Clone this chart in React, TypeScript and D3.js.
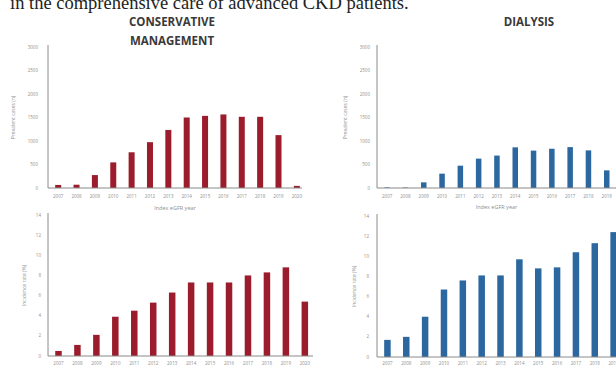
import React from "react";
import * as d3 from "d3";

// index years (14 categories, shared by all panels)
const years = [
  "2007", "2008", "2009", "2010", "2011", "2012", "2013",
  "2014", "2015", "2016", "2017", "2018", "2019", "2020",
];

// conservative management
const cmPrevalent = [65, 70, 275, 545, 760, 975, 1235, 1500, 1535, 1565, 1515, 1515, 1125, 45];
const cmIncidence = [0.5, 1.1, 2.1, 3.9, 4.5, 5.3, 6.3, 7.3, 7.3, 7.3, 8.0, 8.3, 8.8, 5.4];

// dialysis
const dxPrevalent = [12, 10, 120, 305, 475, 625, 690, 865, 795, 835, 870, 800, 375, 420];
const dxIncidence = [1.7, 2.0, 4.0, 6.7, 7.6, 8.1, 8.1, 9.7, 8.8, 8.9, 10.4, 11.3, 12.4, 13.2];

const prevalentTicks = [0, 500, 1000, 1500, 2000, 2500, 3000];
const incidenceTicks = [0, 2, 4, 6, 8, 10, 12, 14];

const RED = "#9b1c2c";
const BLUE = "#2c679f";
const AXIS = "#8a8a8a";
const LABEL = "#8f8f8f";

type PanelProps = {
  axisX: number;
  top: number;
  bottom: number;
  step: number;
  right: number;
  values: number[];
  ticks: number[];
  color: string;
  barWidth: number;
  ylabel: string;
  ylabelX: number;
  tickX: number;
  xTickY: number;
  xlabel?: string;
  xlabelY?: number;
};

const Panel = (p: PanelProps) => {
  const x = d3
    .scaleBand<string>()
    .domain(years)
    .range([p.axisX + 1, p.axisX + 1 + p.step * years.length])
    .paddingInner(0)
    .paddingOuter(0);
  const y = d3
    .scaleLinear()
    .domain([0, p.ticks[p.ticks.length - 1]])
    .range([p.bottom, p.top]);
  const mid = (p.top + p.bottom) / 2;
  const plotMid = (p.axisX + Math.min(p.right, 616)) / 2;

  return (
    <g>
      {p.values.map((v, i) => {
        const cx = (x(years[i]) as number) + x.bandwidth() / 2;
        return (
          <rect
            key={i}
            x={cx - p.barWidth / 2}
            y={y(v)}
            width={p.barWidth}
            height={p.bottom - y(v)}
            fill={p.color}
          />
        );
      })}
      <line x1={p.axisX} x2={p.axisX} y1={p.top - 2} y2={p.bottom} stroke={AXIS} strokeWidth={1} />
      <line x1={p.axisX} x2={p.right} y1={p.bottom} y2={p.bottom} stroke={AXIS} strokeWidth={1} />
      {p.ticks.map((t) => (
        <text
          key={t}
          x={p.tickX}
          y={y(t)}
          dy="0.35em"
          textAnchor="end"
          fontSize={4.5}
          fill={LABEL}
          fontFamily="Open Sans, sans-serif"
        >
          {t}
        </text>
      ))}
      {years.map((yr) => (
        <text
          key={yr}
          x={(x(yr) as number) + x.bandwidth() / 2}
          y={p.xTickY}
          textAnchor="middle"
          fontSize={4.5}
          fill={LABEL}
          fontFamily="Open Sans, sans-serif"
        >
          {yr}
        </text>
      ))}
      <text
        transform={`translate(${p.ylabelX},${mid}) rotate(-90)`}
        textAnchor="middle"
        fontSize={5}
        fill={LABEL}
        fontFamily="Open Sans, sans-serif"
      >
        {p.ylabel}
      </text>
      {p.xlabel && (
        <text
          x={plotMid}
          y={p.xlabelY}
          textAnchor="middle"
          fontSize={5.5}
          fill={LABEL}
          fontFamily="Open Sans, sans-serif"
        >
          {p.xlabel}
        </text>
      )}
    </g>
  );
};

export default function App() {
  return (
    <svg
      width={616}
      height={373}
      style={{ position: "absolute", left: 0, top: 0, background: "#fff" }}
    >
      <text x={10} y={9} fontSize={18.5} fontFamily="Liberation Serif, serif" fill="#222">
        in the comprehensive care of advanced CKD patients.
      </text>

      <g fontFamily="Open Sans, sans-serif" fontWeight={700} fontSize={11.5} fill="#3a3a3a" textAnchor="middle">
        <text x={172} y={26}>CONSERVATIVE</text>
        <text x={172} y={45}>MANAGEMENT</text>
        <text x={529} y={26}>DIALYSIS</text>
      </g>

      <Panel
        axisX={48}
        top={47}
        bottom={188}
        step={18.36}
        right={302}
        values={cmPrevalent}
        ticks={prevalentTicks}
        color={RED}
        barWidth={6}
        ylabel="Prevalent cases (n)"
        ylabelX={15}
        tickX={38}
        xTickY={198}
        xlabel="Index eGFR year"
        xlabelY={210}
      />
      <Panel
        axisX={48}
        top={215}
        bottom={356}
        step={18.95}
        right={313}
        values={cmIncidence}
        ticks={incidenceTicks}
        color={RED}
        barWidth={6.5}
        ylabel="Incidence rate (%)"
        ylabelX={26}
        tickX={41}
        xTickY={365}
      />
      <Panel
        axisX={377}
        top={47}
        bottom={188}
        step={18.3}
        right={616}
        values={dxPrevalent}
        ticks={prevalentTicks}
        color={BLUE}
        barWidth={5.5}
        ylabel="Prevalent cases (n)"
        ylabelX={347}
        tickX={370}
        xTickY={198}
        xlabel="Index eGFR year"
        xlabelY={209}
      />
      <Panel
        axisX={377}
        top={216}
        bottom={357}
        step={18.85}
        right={616}
        values={dxIncidence}
        ticks={incidenceTicks}
        color={BLUE}
        barWidth={6.5}
        ylabel="Incidence rate (%)"
        ylabelX={356}
        tickX={369}
        xTickY={365}
      />
    </svg>
  );
}
